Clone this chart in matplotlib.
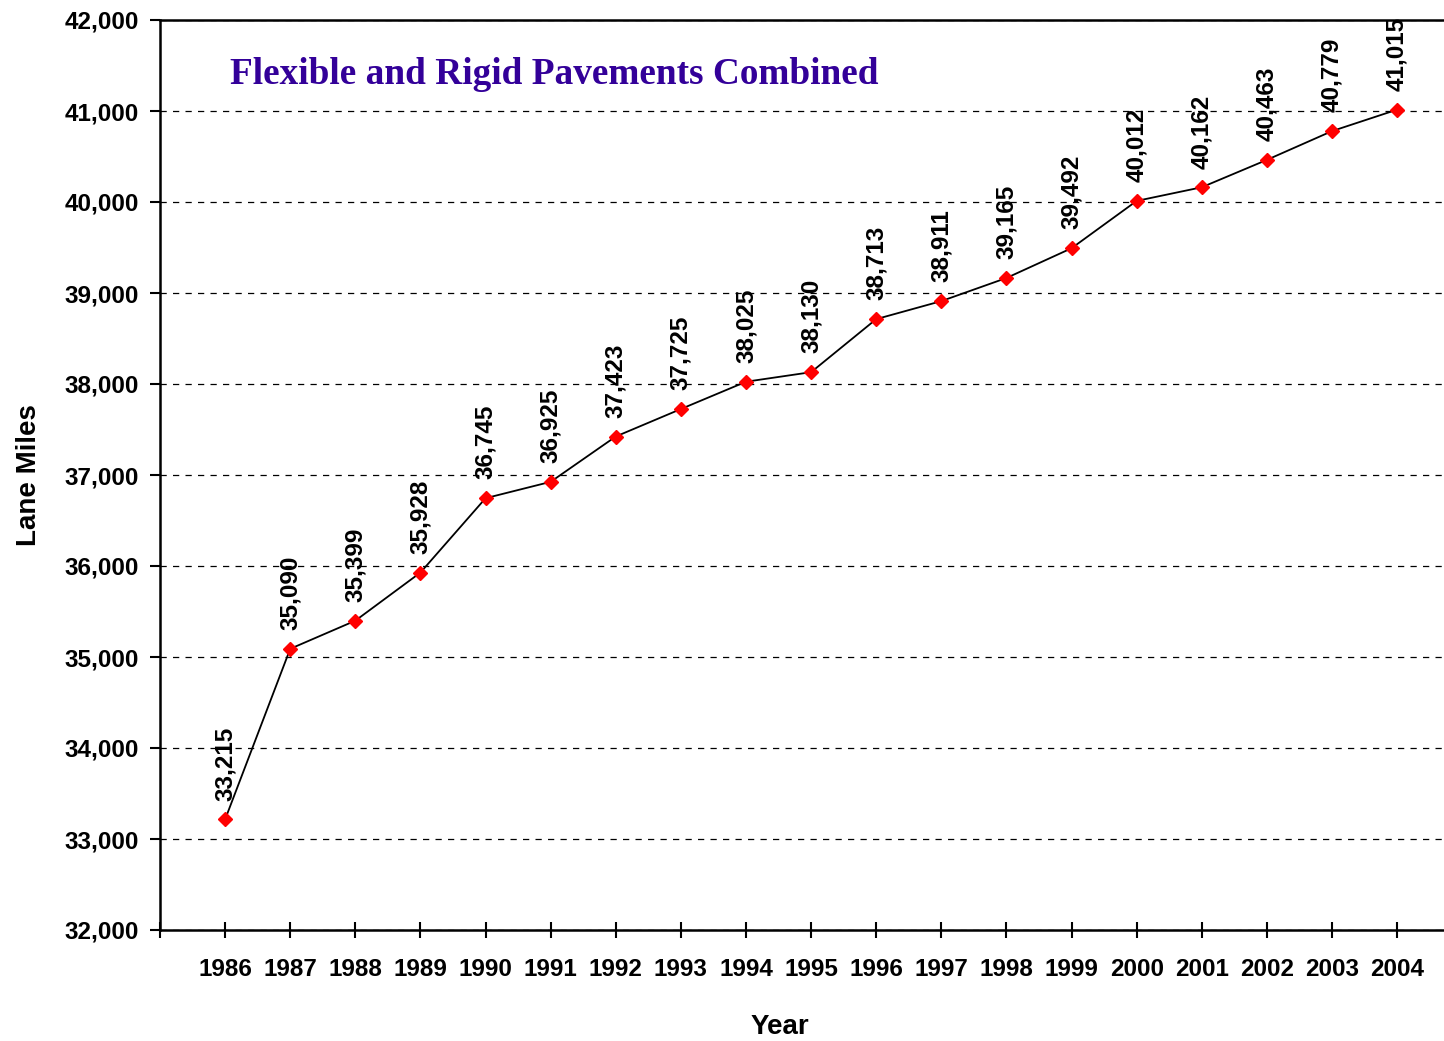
import matplotlib.pyplot as plt
from matplotlib.ticker import FuncFormatter

# Lane miles by year
years = list(range(1986, 2005))
lane_miles = [33215, 35090, 35399, 35928, 36745, 36925, 37423, 37725, 38025, 38130,
              38713, 38911, 39165, 39492, 40012, 40162, 40463, 40779, 41015]
title = 'Flexible and Rigid Pavements Combined'

fig = plt.figure(figsize=(14.44, 10.41), dpi=100)
ax = fig.add_axes([160 / 1444, 1 - 930 / 1041, 1 - 160 / 1444, (930 - 20) / 1041])

ax.plot(years, lane_miles, color='black', linewidth=1.3, marker='D', markersize=7,
        markerfacecolor='red', markeredgecolor='red', zorder=3)

# Data labels above each point
for x, y in zip(years, lane_miles):
    ax.annotate(f'{y:,}', (x, y), xytext=(0, 13.5), textcoords='offset points',
                rotation=90, ha='center', va='bottom', fontsize=17.5,
                fontweight='bold', family='Liberation Sans')

ax.set_xlim(1985, 2004.72)
ax.set_ylim(32000, 42000)
ax.set_yticks(range(32000, 42001, 1000))
ax.set_xticks(range(1985, 2005))
ax.set_xticklabels([''] + [str(y) for y in years])
ax.yaxis.set_major_formatter(FuncFormatter(lambda v, p: f'{int(v):,}'))

ax.grid(axis='y', color='black', linestyle=(0, (5, 5)), linewidth=0.9)
ax.set_axisbelow(True)

for s in ['left', 'bottom', 'top']:
    ax.spines[s].set_linewidth(1.8)
ax.spines['right'].set_visible(False)

ax.tick_params(axis='x', direction='inout', length=12, width=1.5, pad=14.5)
ax.tick_params(axis='y', direction='out', length=7, width=1.5, pad=8)
for lbl in ax.get_xticklabels() + ax.get_yticklabels():
    lbl.set_fontfamily('Liberation Sans')
    lbl.set_fontweight('bold')
    lbl.set_fontsize(17.5)

ax.set_xlabel('Year', fontsize=20, fontweight='bold', family='Liberation Sans')
ax.xaxis.set_label_coords((780 - 160) / 1284, -84 / 910)
ax.set_ylabel('Lane Miles', fontsize=20, fontweight='bold', family='Liberation Sans')
ax.yaxis.set_label_coords(-118 / 1284, 0.5)

ax.text((230 - 160) / 1284, 1 - (75 - 20) / 910, title, transform=ax.transAxes,
        ha='left', va='center', fontsize=26.8, fontweight='bold',
        family='Liberation Serif', color='#330099')

plt.savefig('out.png', dpi=100)
